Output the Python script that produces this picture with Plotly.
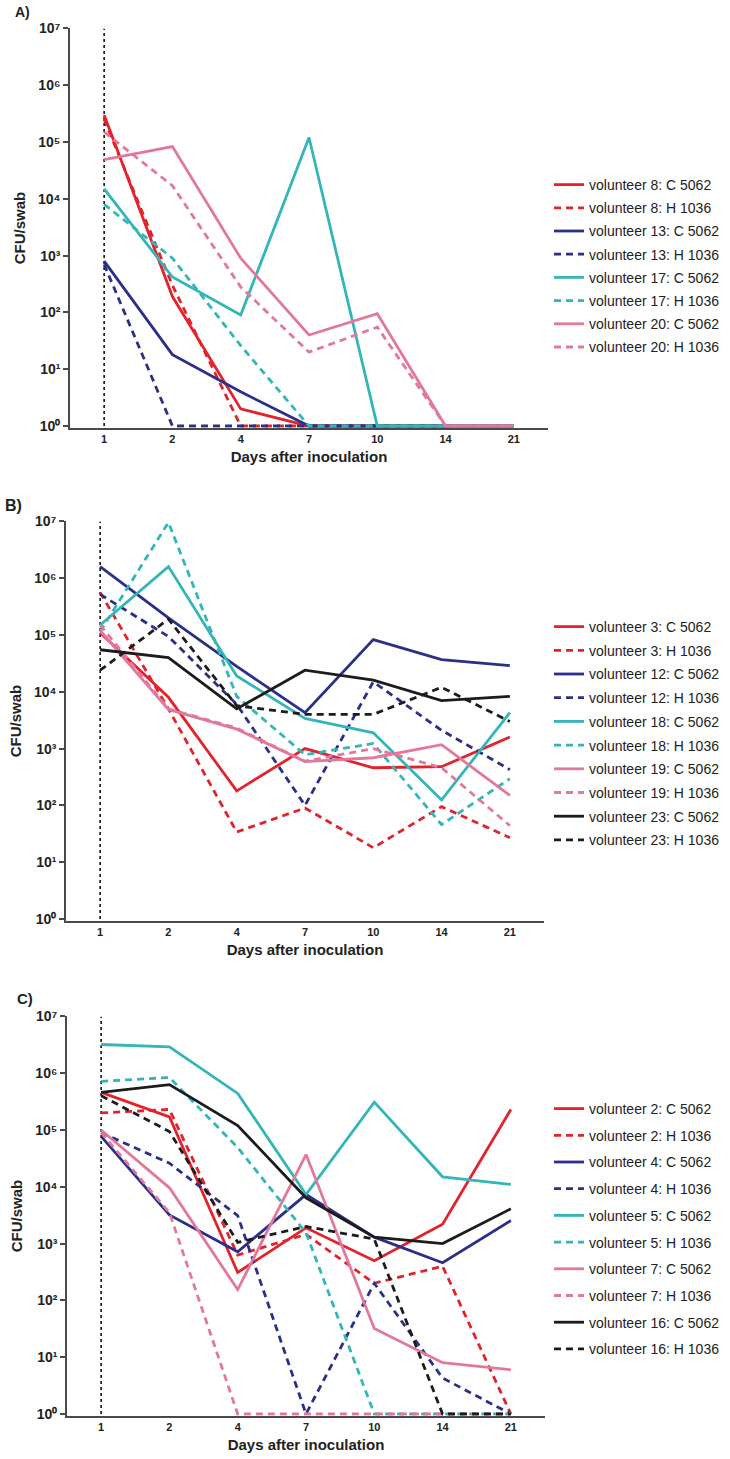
import plotly.graph_objects as go

# ---------------- data ----------------
days = ["1", "2", "4", "7", "10", "14", "21"]
y_tickvals = [1, 10, 100, 1e3, 1e4, 1e5, 1e6, 1e7]
y_ticktext = ["10⁰", "10¹", "10²", "10³", "10⁴", "10⁵", "10⁶", "10⁷"]

# Panel A
A_v8_C = [3.0e5, 190, 2, 1, 1, 1, 1]
A_v8_H = [2.5e5, 300, 1, 1, 1, 1, 1]
A_v13_C = [800, 18, 4, 1, 1, 1, 1]
A_v13_H = [700, 1, 1, 1, 1, 1, 1]
A_v17_C = [1.5e4, 420, 90, 1.2e5, 1, 1, 1]
A_v17_H = [8000, 900, 26, 1, 1, 1, 1]
A_v20_C = [4.9e4, 8.3e4, 900, 40, 95, 1, 1]
A_v20_H = [1.5e5, 1.7e4, 280, 20, 55, 1, 1]

# Panel B
B_v3_C = [1.1e5, 8000, 180, 1000, 460, 480, 1600]
B_v3_H = [5.6e5, 5000, 34, 90, 18, 95, 27]
B_v12_C = [1.6e6, 2e5, 2.8e4, 4300, 8.3e4, 3.7e4, 2.9e4]
B_v12_H = [5.2e5, 9.4e4, 6000, 100, 1.5e4, 2100, 425]
B_v18_C = [1.5e5, 1.6e6, 1.9e4, 3400, 1900, 125, 4300]
B_v18_H = [1.15e5, 9.6e6, 8300, 780, 1230, 46, 295]
B_v19_C = [1.2e5, 4900, 2200, 590, 690, 1170, 150]
B_v19_H = [1.5e5, 5000, 2300, 600, 1000, 460, 44]
B_v23_C = [5.5e4, 4e4, 5000, 2.4e4, 1.6e4, 7000, 8300]
B_v23_H = [2.4e4, 1.9e5, 5700, 4000, 4000, 1.2e4, 3000]

# Panel C
C_v2_C = [4.6e5, 1.7e5, 310, 1900, 500, 2200, 2.3e5]
C_v2_H = [2e5, 2.3e5, 630, 1450, 200, 400, 1]
C_v4_C = [7.7e4, 3200, 720, 7300, 1300, 460, 2550]
C_v4_H = [9e4, 2.6e4, 3100, 1, 200, 4.3, 1]
C_v5_C = [3.2e6, 2.9e6, 4.4e5, 7300, 3.1e5, 1.5e4, 1.1e4]
C_v5_H = [7.2e5, 8.4e5, 4.9e4, 1550, 1, 1, 1]
C_v7_C = [1e5, 9600, 155, 3.7e4, 32, 8, 6]
C_v7_H = [9e4, 3500, 1, 1, 1, 1, 1]
C_v16_C = [4.6e5, 6.3e5, 1.2e5, 6400, 1300, 1000, 4100]
C_v16_H = [4e5, 9.4e4, 1050, 2000, 1200, 1, 1]

RED, NAVY, CYAN, PINK, BLACK = "#e3232c", "#2b2f88", "#33b5b9", "#e2789c", "#1c1c1c"

panel_series = [
    [("volunteer 8: C 5062", A_v8_C, RED, "solid"), ("volunteer 8: H 1036", A_v8_H, RED, "dash"),
     ("volunteer 13: C 5062", A_v13_C, NAVY, "solid"), ("volunteer 13: H 1036", A_v13_H, NAVY, "dash"),
     ("volunteer 17: C 5062", A_v17_C, CYAN, "solid"), ("volunteer 17: H 1036", A_v17_H, CYAN, "dash"),
     ("volunteer 20: C 5062", A_v20_C, PINK, "solid"), ("volunteer 20: H 1036", A_v20_H, PINK, "dash")],
    [("volunteer 3: C 5062", B_v3_C, RED, "solid"), ("volunteer 3: H 1036", B_v3_H, RED, "dash"),
     ("volunteer 12: C 5062", B_v12_C, NAVY, "solid"), ("volunteer 12: H 1036", B_v12_H, NAVY, "dash"),
     ("volunteer 18: C 5062", B_v18_C, CYAN, "solid"), ("volunteer 18: H 1036", B_v18_H, CYAN, "dash"),
     ("volunteer 19: C 5062", B_v19_C, PINK, "solid"), ("volunteer 19: H 1036", B_v19_H, PINK, "dash"),
     ("volunteer 23: C 5062", B_v23_C, BLACK, "solid"), ("volunteer 23: H 1036", B_v23_H, BLACK, "dash")],
    [("volunteer 2: C 5062", C_v2_C, RED, "solid"), ("volunteer 2: H 1036", C_v2_H, RED, "dash"),
     ("volunteer 4: C 5062", C_v4_C, NAVY, "solid"), ("volunteer 4: H 1036", C_v4_H, NAVY, "dash"),
     ("volunteer 5: C 5062", C_v5_C, CYAN, "solid"), ("volunteer 5: H 1036", C_v5_H, CYAN, "dash"),
     ("volunteer 7: C 5062", C_v7_C, PINK, "solid"), ("volunteer 7: H 1036", C_v7_H, PINK, "dash"),
     ("volunteer 16: C 5062", C_v16_C, BLACK, "solid"), ("volunteer 16: H 1036", C_v16_H, BLACK, "dash")],
]

# ---------------- layout geometry (pixels) ----------------
W, H = 730, 1459
DEC = 56.8
panels = [
    dict(x0=70, x1=548, ybase=426, legend_top=169, gap=2, label="A)", lx=13, ly=12, lsize=14),
    dict(x0=66, x1=544, ybase=919, legend_top=611, gap=2.5, label="B)", lx=3, ly=506, lsize=16),
    dict(x0=67, x1=545, ybase=1414, legend_top=1093, gap=5.5, label="C)", lx=15, ly=998, lsize=15),
]
LEGEND_X = 549
YLO = -0.03
FONT = "Arial, Liberation Sans, sans-serif"
AXC = "#4a4a4a"

fig = go.Figure()
x_idx = list(range(len(days)))
annotations = []
for i, (p, series) in enumerate(zip(panels, panel_series)):
    n = "" if i == 0 else str(i + 1)
    xa, ya = "x" + n, "y" + n
    leg = "legend" + n
    # dotted inoculation line at day 1
    fig.add_trace(go.Scatter(x=[x_idx[0], x_idx[0]], y=[1, 1e7], mode="lines",
                             line=dict(color="#111111", width=1.6, dash="dot"),
                             showlegend=False, hoverinfo="skip", xaxis=xa, yaxis=ya))
    for name, vals, col, dash in series:
        fig.add_trace(go.Scatter(
            x=x_idx, y=vals, mode="lines", name=name, legendgroup=name,
            line=dict(color=col, width=2.8, dash="solid" if dash == "solid" else "7px,5px"),
            xaxis=xa, yaxis=ya, legend=leg))
    top_px = p["ybase"] - 7 * DEC
    bot_px = p["ybase"] - YLO * DEC
    xdom = [p["x0"] / W, p["x1"] / W]
    ydom = [1 - bot_px / H, 1 - top_px / H]
    fig.layout["xaxis" + n] = dict(
        domain=xdom, anchor=ya, range=[-0.5, 6.5], tickvals=x_idx, ticktext=days, automargin=False,
        showline=True, linecolor=AXC, linewidth=1.6, ticks="", showgrid=False, zeroline=False,
        tickfont=dict(family=FONT, size=11, color="#222222", weight="bold"),
        title=dict(text="<b>Days after inoculation</b>", standoff=8,
                   font=dict(family=FONT, size=15, color="#222222")))
    fig.layout["yaxis" + n] = dict(
        domain=ydom, anchor=xa, type="log", range=[YLO, 7], tickvals=y_tickvals, ticktext=y_ticktext,
        automargin=False,
        showline=True, linecolor=AXC, linewidth=1.6, ticks="outside", ticklen=5, tickwidth=1.6,
        tickcolor=AXC, showgrid=False, zeroline=False,
        tickfont=dict(family=FONT, size=14, color="#222222", weight="bold"),
        title=dict(text="<b>CFU/swab</b>", standoff=9,
                   font=dict(family=FONT, size=15, color="#222222")))
    fig.layout[leg] = dict(
        x=LEGEND_X / W, xanchor="left", y=1 - p["legend_top"] / H, yanchor="top",
        font=dict(family=FONT, size=14, color="#222222"), bgcolor="rgba(0,0,0,0)",
        traceorder="grouped", tracegroupgap=p["gap"], itemwidth=30)
    annotations.append(dict(text="<b>%s</b>" % p["label"], x=p["lx"] / W, y=1 - p["ly"] / H,
                            xref="paper", yref="paper", xanchor="left", yanchor="middle",
                            showarrow=False, font=dict(family=FONT, size=p["lsize"], color="#222222")))

fig.update_layout(width=W, height=H, margin=dict(l=0, r=0, t=0, b=0, autoexpand=False),
                  plot_bgcolor="white", paper_bgcolor="white",
                  annotations=annotations, showlegend=True)
fig.write_html("out.html", config={"displayModeBar": False},
               post_script="document.body.style.margin='0';")
